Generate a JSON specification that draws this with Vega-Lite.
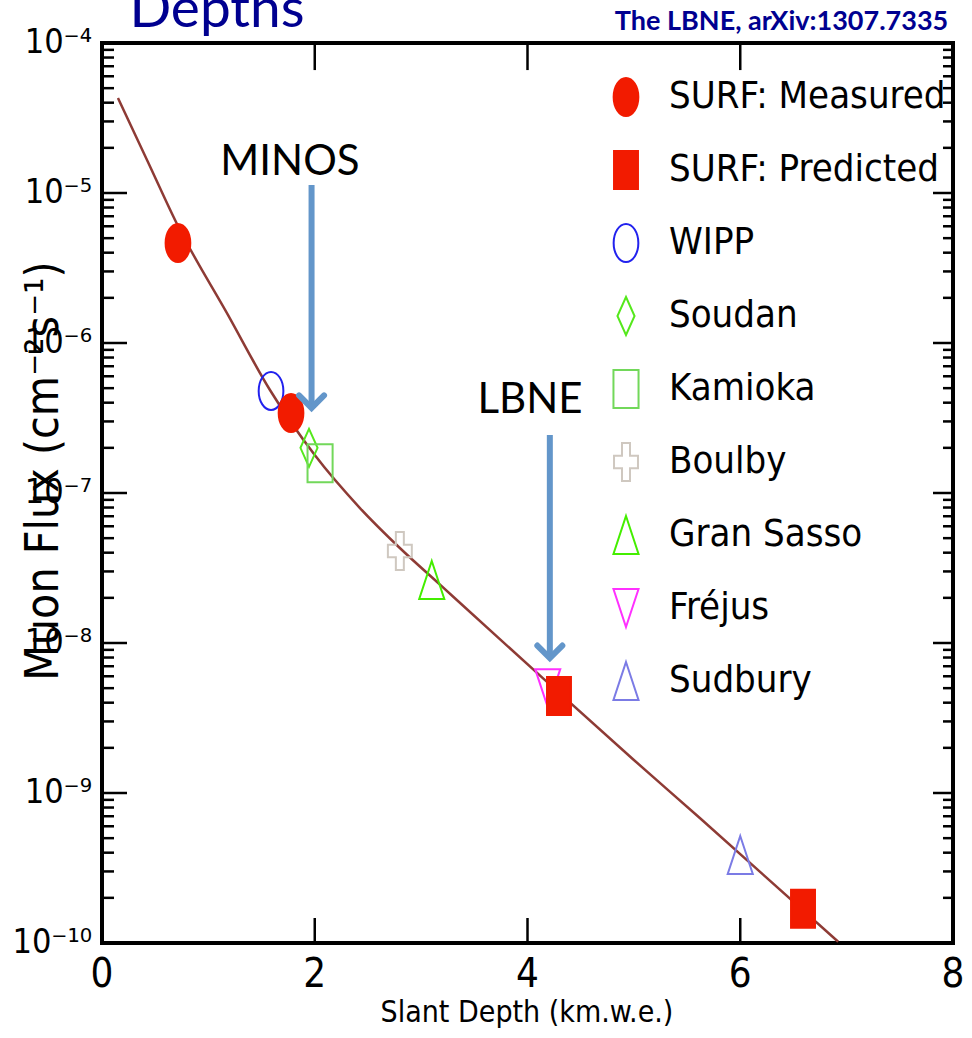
{
  "$schema": "https://vega.github.io/schema/vega-lite/v6.json",
  "width": 851,
  "height": 900,
  "autosize": {"type": "none"},
  "padding": {"left": 102, "top": 43, "right": 19, "bottom": 95},
  "background": "white",
  "config": {
    "view": {"stroke": "black", "strokeWidth": 4}
  },
  "datasets": {
    "curve": [
      {"depth": 0.15, "flux": 4.3e-5},
      {"depth": 0.432, "flux": 1.61e-5},
      {"depth": 0.714, "flux": 6.03e-6},
      {"depth": 1.184, "flux": 1.54e-6},
      {"depth": 1.579, "flux": 4.86e-7},
      {"depth": 2.0, "flux": 1.79e-7},
      {"depth": 2.425, "flux": 7.94e-8},
      {"depth": 2.8, "flux": 4.3e-8},
      {"depth": 3.18, "flux": 2.44e-8},
      {"depth": 4.183, "flux": 5.5e-9},
      {"depth": 5.0, "flux": 1.66e-9},
      {"depth": 5.62, "flux": 6.81e-10},
      {"depth": 6.92, "flux": 1.02e-10}
    ],
    "points": [
      {"experiment": "WIPP", "depth": 1.589, "flux": 4.79e-7},
      {"experiment": "Soudan", "depth": 1.946, "flux": 2.0e-7},
      {"experiment": "Kamioka", "depth": 2.05, "flux": 1.58e-7},
      {"experiment": "Boulby", "depth": 2.8, "flux": 4.1e-8},
      {"experiment": "Gran Sasso", "depth": 3.1, "flux": 2.63e-8},
      {"experiment": "Fréjus", "depth": 4.19, "flux": 5.0e-9},
      {"experiment": "Sudbury", "depth": 6.0, "flux": 3.86e-10},
      {"experiment": "SURF: Measured", "depth": 0.714, "flux": 4.64e-6},
      {"experiment": "SURF: Measured", "depth": 1.777, "flux": 3.42e-7},
      {"experiment": "SURF: Predicted", "depth": 4.296, "flux": 4.43e-9},
      {"experiment": "SURF: Predicted", "depth": 6.59, "flux": 1.69e-10}
    ],
    "arrows": [
      {"label": "MINOS", "depth": 1.97, "top": 1.13e-5, "tip": 3.69e-7, "labelDepth": 1.767, "labelFlux": 1.318e-5},
      {"label": "LBNE", "depth": 4.21, "top": 2.44e-7, "tip": 7.94e-9, "labelDepth": 4.024, "labelFlux": 3.42e-7}
    ],
    "yticks": [
      {"flux": 1e-10, "kind": "major", "label": "10⁻¹⁰"}, {"flux": 2e-10, "kind": "minor"}, {"flux": 3e-10, "kind": "minor"}, {"flux": 4e-10, "kind": "minor"}, {"flux": 5e-10, "kind": "minor"}, {"flux": 6e-10, "kind": "minor"}, {"flux": 7e-10, "kind": "minor"}, {"flux": 8e-10, "kind": "minor"}, {"flux": 9e-10, "kind": "minor"},
      {"flux": 1e-9, "kind": "major", "label": "10⁻⁹"}, {"flux": 2e-9, "kind": "minor"}, {"flux": 3e-9, "kind": "minor"}, {"flux": 4e-9, "kind": "minor"}, {"flux": 5e-9, "kind": "minor"}, {"flux": 6e-9, "kind": "minor"}, {"flux": 7e-9, "kind": "minor"}, {"flux": 8e-9, "kind": "minor"}, {"flux": 9e-9, "kind": "minor"},
      {"flux": 1e-8, "kind": "major", "label": "10⁻⁸"}, {"flux": 2e-8, "kind": "minor"}, {"flux": 3e-8, "kind": "minor"}, {"flux": 4e-8, "kind": "minor"}, {"flux": 5e-8, "kind": "minor"}, {"flux": 6e-8, "kind": "minor"}, {"flux": 7e-8, "kind": "minor"}, {"flux": 8e-8, "kind": "minor"}, {"flux": 9e-8, "kind": "minor"},
      {"flux": 1e-7, "kind": "major", "label": "10⁻⁷"}, {"flux": 2e-7, "kind": "minor"}, {"flux": 3e-7, "kind": "minor"}, {"flux": 4e-7, "kind": "minor"}, {"flux": 5e-7, "kind": "minor"}, {"flux": 6e-7, "kind": "minor"}, {"flux": 7e-7, "kind": "minor"}, {"flux": 8e-7, "kind": "minor"}, {"flux": 9e-7, "kind": "minor"},
      {"flux": 1e-6, "kind": "major", "label": "10⁻⁶"}, {"flux": 2e-6, "kind": "minor"}, {"flux": 3e-6, "kind": "minor"}, {"flux": 4e-6, "kind": "minor"}, {"flux": 5e-6, "kind": "minor"}, {"flux": 6e-6, "kind": "minor"}, {"flux": 7e-6, "kind": "minor"}, {"flux": 8e-6, "kind": "minor"}, {"flux": 9e-6, "kind": "minor"},
      {"flux": 1e-5, "kind": "major", "label": "10⁻⁵"}, {"flux": 2e-5, "kind": "minor"}, {"flux": 3e-5, "kind": "minor"}, {"flux": 4e-5, "kind": "minor"}, {"flux": 5e-5, "kind": "minor"}, {"flux": 6e-5, "kind": "minor"}, {"flux": 7e-5, "kind": "minor"}, {"flux": 8e-5, "kind": "minor"}, {"flux": 9e-5, "kind": "minor"},
      {"flux": 1e-4, "kind": "major", "label": "10⁻⁴"}
    ],
    "xticks": [{"depth": 2}, {"depth": 4}, {"depth": 6}],
    "xlabels": [{"depth": 0}, {"depth": 2}, {"depth": 4}, {"depth": 6}, {"depth": 8}]
  },
  "layer": [
    {
      "data": {"name": "yticks"},
      "transform": [{"filter": "datum.kind == 'major'"}],
      "mark": {"type": "rule", "color": "black", "strokeWidth": 2.5},
      "encoding": {
        "x": {"datum": 0, "type": "quantitative", "scale": {"domain": [0, 8], "nice": false, "zero": false}, "axis": null},
        "x2": {"datum": 0.235},
        "y": {"field": "flux", "type": "quantitative", "scale": {"type": "log", "domain": [1e-10, 1e-4], "nice": false}, "axis": null}
      }
    },
    {
      "data": {"name": "yticks"},
      "transform": [{"filter": "datum.kind == 'minor'"}],
      "mark": {"type": "rule", "color": "black", "strokeWidth": 2.5},
      "encoding": {
        "x": {"datum": 0, "type": "quantitative", "scale": {"domain": [0, 8], "nice": false, "zero": false}, "axis": null},
        "x2": {"datum": 0.113},
        "y": {"field": "flux", "type": "quantitative", "scale": {"type": "log", "domain": [1e-10, 1e-4], "nice": false}, "axis": null}
      }
    },
    {
      "data": {"name": "yticks"},
      "transform": [{"filter": "datum.kind == 'major'"}],
      "mark": {"type": "rule", "color": "black", "strokeWidth": 2.5},
      "encoding": {
        "x": {"datum": 8, "type": "quantitative", "scale": {"domain": [0, 8], "nice": false, "zero": false}, "axis": null},
        "x2": {"datum": 7.812},
        "y": {"field": "flux", "type": "quantitative", "scale": {"type": "log", "domain": [1e-10, 1e-4], "nice": false}, "axis": null}
      }
    },
    {
      "data": {"name": "yticks"},
      "transform": [{"filter": "datum.kind == 'minor'"}],
      "mark": {"type": "rule", "color": "black", "strokeWidth": 2.5},
      "encoding": {
        "x": {"datum": 8, "type": "quantitative", "scale": {"domain": [0, 8], "nice": false, "zero": false}, "axis": null},
        "x2": {"datum": 7.906},
        "y": {"field": "flux", "type": "quantitative", "scale": {"type": "log", "domain": [1e-10, 1e-4], "nice": false}, "axis": null}
      }
    },
    {
      "data": {"name": "xticks"},
      "mark": {"type": "rule", "color": "black", "strokeWidth": 2.5},
      "encoding": {
        "x": {"field": "depth", "type": "quantitative", "scale": {"domain": [0, 8], "nice": false, "zero": false}, "axis": null},
        "y": {"datum": 1e-4, "type": "quantitative", "scale": {"type": "log", "domain": [1e-10, 1e-4], "nice": false}, "axis": null},
        "y2": {"datum": 6.6e-5}
      }
    },
    {
      "data": {"name": "xticks"},
      "mark": {"type": "rule", "color": "black", "strokeWidth": 2.5},
      "encoding": {
        "x": {"field": "depth", "type": "quantitative", "scale": {"domain": [0, 8], "nice": false, "zero": false}, "axis": null},
        "y": {"datum": 1e-10, "type": "quantitative", "scale": {"type": "log", "domain": [1e-10, 1e-4], "nice": false}, "axis": null},
        "y2": {"datum": 1.468e-10}
      }
    },
    {
      "data": {"name": "yticks"},
      "transform": [{"filter": "datum.kind == 'major'"}],
      "mark": {"type": "text", "font": "DejaVu Sans Condensed, DejaVu Sans, sans-serif", "fontSize": 34, "align": "right", "baseline": "middle", "dx": -10, "color": "black"},
      "encoding": {
        "x": {"datum": 0, "type": "quantitative", "scale": {"domain": [0, 8], "nice": false, "zero": false}, "axis": null},
        "y": {"field": "flux", "type": "quantitative", "scale": {"type": "log", "domain": [1e-10, 1e-4], "nice": false}, "axis": null},
        "text": {"field": "label"}
      }
    },
    {
      "data": {"name": "xlabels"},
      "mark": {"type": "text", "font": "DejaVu Sans Condensed, DejaVu Sans, sans-serif", "fontSize": 40, "align": "center", "baseline": "top", "dy": 12, "color": "black"},
      "encoding": {
        "x": {"field": "depth", "type": "quantitative", "scale": {"domain": [0, 8], "nice": false, "zero": false}, "axis": null},
        "y": {"datum": 1e-10, "type": "quantitative", "scale": {"type": "log", "domain": [1e-10, 1e-4], "nice": false}, "axis": null},
        "text": {"field": "depth", "type": "quantitative"}
      }
    },
    {
      "data": {"values": [{}]},
      "mark": {"type": "text", "font": "DejaVu Sans Condensed, DejaVu Sans, sans-serif", "fontSize": 30, "align": "center", "baseline": "alphabetic", "color": "black"},
      "encoding": {
        "x": {"datum": 3.995, "type": "quantitative", "scale": {"domain": [0, 8], "nice": false, "zero": false}, "axis": null},
        "y": {"datum": 2.97e-11, "type": "quantitative", "scale": {"type": "log", "domain": [1e-10, 1e-4], "nice": false}, "axis": null},
        "text": {"value": "Slant Depth (km.w.e.)"}
      }
    },
    {
      "data": {"values": [{}]},
      "mark": {"type": "text", "font": "DejaVu Sans Condensed, DejaVu Sans, sans-serif", "fontSize": 46, "align": "center", "baseline": "middle", "angle": 270, "color": "black"},
      "encoding": {
        "x": {"datum": -0.545, "type": "quantitative", "scale": {"domain": [0, 8], "nice": false, "zero": false}, "axis": null},
        "y": {"datum": 1.4e-7, "type": "quantitative", "scale": {"type": "log", "domain": [1e-10, 1e-4], "nice": false}, "axis": null},
        "text": {"value": "Muon Flux (cm⁻²s⁻¹)"}
      }
    },
    {
      "data": {"name": "curve"},
      "mark": {"type": "line", "interpolate": "monotone", "color": "#8E3B35", "strokeWidth": 2.5},
      "encoding": {
        "x": {"field": "depth", "type": "quantitative", "scale": {"domain": [0, 8], "nice": false, "zero": false}, "axis": null},
        "y": {"field": "flux", "type": "quantitative", "scale": {"type": "log", "domain": [1e-10, 1e-4], "nice": false}, "axis": null}
      }
    },
    {
      "data": {"name": "points"},
      "mark": {"type": "point", "size": 1444, "strokeWidth": 2, "opacity": 1},
      "encoding": {
        "x": {"field": "depth", "type": "quantitative", "scale": {"domain": [0, 8], "nice": false, "zero": false}, "axis": null},
        "y": {"field": "flux", "type": "quantitative", "scale": {"type": "log", "domain": [1e-10, 1e-4], "nice": false}, "axis": null},
        "shape": {
          "field": "experiment", "type": "nominal",
          "scale": {
            "domain": ["SURF: Measured", "SURF: Predicted", "WIPP", "Soudan", "Kamioka", "Boulby", "Gran Sasso", "Fréjus", "Sudbury"],
            "range": [
              "M0,-1A0.65,1,0,1,1,0,1A0.65,1,0,1,1,0,-1Z",
              "M-0.63,-1L0.63,-1L0.63,1L-0.63,1Z",
              "M0,-1A0.65,1,0,1,1,0,1A0.65,1,0,1,1,0,-1Z",
              "M0,-1L0.45,0L0,1L-0.45,0Z",
              "M-0.66,-1L0.66,-1L0.66,1L-0.66,1Z",
              "M-0.21,-1L0.21,-1L0.21,-0.33L0.63,-0.33L0.63,0.33L0.21,0.33L0.21,1L-0.21,1L-0.21,0.33L-0.63,0.33L-0.63,-0.33L-0.21,-0.33Z",
              "M0,-1L0.66,1L-0.66,1Z",
              "M0,1L0.66,-1L-0.66,-1Z",
              "M0,-1L0.66,1L-0.66,1Z"
            ]
          },
          "legend": {"orient": "none", "legendX": 504, "legendY": 34, "title": null, "padding": 0, "labelFont": "DejaVu Sans Condensed, DejaVu Sans, sans-serif", "labelFontSize": 38, "labelColor": "black", "labelLimit": 400, "symbolSize": 1444, "symbolStrokeWidth": 2, "symbolOpacity": 1, "labelOffset": 23, "rowPadding": 27}
        },
        "stroke": {
          "field": "experiment", "type": "nominal",
          "scale": {
            "domain": ["SURF: Measured", "SURF: Predicted", "WIPP", "Soudan", "Kamioka", "Boulby", "Gran Sasso", "Fréjus", "Sudbury"],
            "range": ["#F21B00", "#F21B00", "#2222EE", "#55E81C", "#72D85A", "#CFC8C0", "#44EE00", "#FF30FF", "#7B7BE5"]
          },
          "legend": {"orient": "none", "legendX": 504, "legendY": 34, "title": null, "padding": 0, "labelFont": "DejaVu Sans Condensed, DejaVu Sans, sans-serif", "labelFontSize": 38, "labelColor": "black", "labelLimit": 400, "symbolSize": 1444, "symbolStrokeWidth": 2, "symbolOpacity": 1, "labelOffset": 23, "rowPadding": 27}
        },
        "fill": {
          "field": "experiment", "type": "nominal",
          "scale": {
            "domain": ["SURF: Measured", "SURF: Predicted", "WIPP", "Soudan", "Kamioka", "Boulby", "Gran Sasso", "Fréjus", "Sudbury"],
            "range": ["#F21B00", "#F21B00", "transparent", "transparent", "transparent", "transparent", "transparent", "transparent", "transparent"]
          },
          "legend": {"orient": "none", "legendX": 504, "legendY": 34, "title": null, "padding": 0, "labelFont": "DejaVu Sans Condensed, DejaVu Sans, sans-serif", "labelFontSize": 38, "labelColor": "black", "labelLimit": 400, "symbolSize": 1444, "symbolStrokeWidth": 2, "symbolOpacity": 1, "labelOffset": 23, "rowPadding": 27}
        }
      }
    },
    {
      "data": {"name": "arrows"},
      "mark": {"type": "rule", "color": "#6396CA", "strokeWidth": 6},
      "encoding": {
        "x": {"field": "depth", "type": "quantitative", "scale": {"domain": [0, 8], "nice": false, "zero": false}, "axis": null},
        "y": {"field": "top", "type": "quantitative", "scale": {"type": "log", "domain": [1e-10, 1e-4], "nice": false}, "axis": null},
        "y2": {"field": "tip"}
      }
    },
    {
      "data": {"name": "arrows"},
      "mark": {"type": "point", "shape": "M-1,-1L0,0L1,-1", "filled": false, "size": 625, "stroke": "#6396CA", "strokeWidth": 6, "strokeCap": "round", "opacity": 1},
      "encoding": {
        "x": {"field": "depth", "type": "quantitative", "scale": {"domain": [0, 8], "nice": false, "zero": false}, "axis": null},
        "y": {"field": "tip", "type": "quantitative", "scale": {"type": "log", "domain": [1e-10, 1e-4], "nice": false}, "axis": null}
      }
    },
    {
      "data": {"name": "arrows"},
      "mark": {"type": "text", "font": "Lato", "fontSize": 42, "align": "center", "baseline": "alphabetic", "color": "black"},
      "encoding": {
        "x": {"field": "labelDepth", "type": "quantitative", "scale": {"domain": [0, 8], "nice": false, "zero": false}, "axis": null},
        "y": {"field": "labelFlux", "type": "quantitative", "scale": {"type": "log", "domain": [1e-10, 1e-4], "nice": false}, "axis": null},
        "text": {"field": "label"}
      }
    },
    {
      "data": {"values": [{}]},
      "mark": {"type": "text", "font": "Lato", "fontWeight": "bold", "fontSize": 27, "align": "right", "baseline": "alphabetic", "color": "#000090"},
      "encoding": {
        "x": {"datum": 7.955, "type": "quantitative", "scale": {"domain": [0, 8], "nice": false, "zero": false}, "axis": null},
        "y": {"datum": 1.22e-4, "type": "quantitative", "scale": {"type": "log", "domain": [1e-10, 1e-4], "nice": false}, "axis": null},
        "text": {"value": "The LBNE, arXiv:1307.7335"}
      }
    },
    {
      "data": {"values": [{}]},
      "mark": {"type": "text", "font": "Lato", "fontSize": 55, "align": "center", "baseline": "alphabetic", "color": "#000090"},
      "encoding": {
        "x": {"datum": 1.081, "type": "quantitative", "scale": {"domain": [0, 8], "nice": false, "zero": false}, "axis": null},
        "y": {"datum": 1.279e-4, "type": "quantitative", "scale": {"type": "log", "domain": [1e-10, 1e-4], "nice": false}, "axis": null},
        "text": {"value": "Depths"}
      }
    }
  ]
}
